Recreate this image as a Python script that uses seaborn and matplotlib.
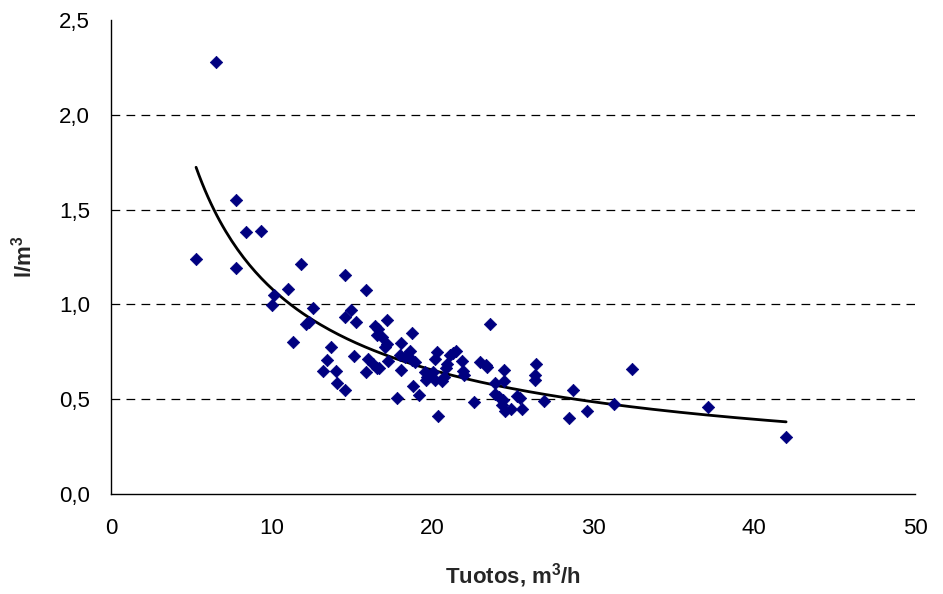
import numpy as np
import pandas as pd
import matplotlib
matplotlib.use("Agg")
import matplotlib.pyplot as plt
from matplotlib.ticker import FuncFormatter
import seaborn as sns

# Measured flow (m3/h) and specific consumption (l/m3)
tuotos = [
    5.29, 6.51, 7.75, 7.75, 8.40, 9.33, 9.99, 10.16, 11.03, 11.80, 11.34,
    12.13, 12.30, 12.54, 14.55, 15.86, 14.93, 14.55, 15.22, 17.18, 16.42,
    16.63, 16.52, 16.83, 18.70, 17.14, 17.04, 18.03, 13.68, 13.41, 15.10,
    15.96, 13.20, 14.00, 15.86, 16.31, 16.52, 16.68, 17.25, 17.97, 18.28,
    18.60, 18.70, 18.90, 18.03, 14.07, 14.55, 18.80, 19.17, 17.77, 19.53,
    19.62, 19.57, 20.04, 20.25, 20.15, 20.15, 20.60, 20.70, 20.88, 20.85,
    20.36, 21.08, 21.25, 21.46, 21.83, 21.90, 21.95, 22.95, 23.30, 23.40,
    22.60, 23.57, 24.45, 24.44, 23.90, 23.88, 24.15, 24.35, 24.30, 24.50,
    24.86, 25.23, 25.44, 25.54, 26.45, 26.37, 26.37, 26.93, 28.71, 28.50,
    29.58, 31.28, 32.38, 37.15, 41.98,
]
kulutus = [
    1.237, 2.277, 1.548, 1.194, 1.381, 1.388, 0.995, 1.048, 1.083, 1.212, 0.803,
    0.895, 0.909, 0.980, 1.157, 1.076, 0.970, 0.932, 0.909, 0.916, 0.884,
    0.868, 0.837, 0.829, 0.851, 0.793, 0.775, 0.796, 0.777, 0.706, 0.730,
    0.714, 0.650, 0.650, 0.643, 0.687, 0.666, 0.663, 0.701, 0.731, 0.722,
    0.752, 0.705, 0.696, 0.652, 0.585, 0.546, 0.570, 0.522, 0.505, 0.643,
    0.617, 0.600, 0.643, 0.749, 0.714, 0.599, 0.598, 0.615, 0.685, 0.662,
    0.411, 0.731, 0.742, 0.756, 0.700, 0.648, 0.628, 0.694, 0.682, 0.672,
    0.483, 0.899, 0.652, 0.594, 0.584, 0.525, 0.511, 0.497, 0.467, 0.440,
    0.446, 0.518, 0.505, 0.450, 0.684, 0.628, 0.599, 0.490, 0.550, 0.402,
    0.436, 0.476, 0.657, 0.458, 0.298,
]

x_ticks = [0, 10, 20, 30, 40, 50]
y_ticks = [0.0, 0.5, 1.0, 1.5, 2.0, 2.5]

df = pd.DataFrame({"tuotos": tuotos, "kulutus": kulutus})

# Power-law trendline y = a * x^b, least squares in log-log space
b, log_a = np.polyfit(np.log(df["tuotos"]), np.log(df["kulutus"]), 1)
x_fit = np.linspace(df["tuotos"].min(), df["tuotos"].max(), 200)
trend = pd.DataFrame({"tuotos": x_fit, "kulutus": np.exp(log_a) * x_fit ** b})

sns.set_theme(style="white")
plt.rcParams["font.family"] = ["Liberation Sans", "DejaVu Sans"]
plt.rcParams["mathtext.fontset"] = "custom"
plt.rcParams["mathtext.rm"] = "Liberation Sans"
plt.rcParams["mathtext.bf"] = "Liberation Sans:bold"

fig = plt.figure(figsize=(9.43, 5.94), dpi=100)
ax = fig.add_axes([0.1177, 0.1684, 0.8527, 0.7979])

# dashed horizontal gridlines
for yv in y_ticks[1:-1]:
    ax.axhline(yv, color="black", lw=0.9, ls=(0, (7, 5)), zorder=0)

sns.lineplot(data=trend, x="tuotos", y="kulutus", ax=ax, color="black",
             lw=2.0, zorder=2)
sns.scatterplot(data=df, x="tuotos", y="kulutus", ax=ax, marker="D",
                color="#000080", edgecolor="#000080", s=40, linewidth=0.5,
                zorder=3)

ax.set_xlim(x_ticks[0], x_ticks[-1])
ax.set_ylim(y_ticks[0], y_ticks[-1])
ax.set_xticks(x_ticks)
ax.set_yticks(y_ticks)
ax.yaxis.set_major_formatter(FuncFormatter(lambda v, p: f"{v:.1f}".replace(".", ",")))
ax.xaxis.set_major_formatter(FuncFormatter(lambda v, p: f"{v:.0f}"))

for side in ("top", "right"):
    ax.spines[side].set_visible(False)
for side in ("left", "bottom"):
    ax.spines[side].set_color("black")
    ax.spines[side].set_linewidth(1.0)

ax.tick_params(axis="both", direction="out", length=7, width=1.0,
               color="black", labelsize=16, labelcolor="black")
ax.tick_params(axis="x", pad=10)
ax.tick_params(axis="y", pad=8)

ax.set_xlabel(r"Tuotos, m$^\mathbf{3}$/h", fontsize=16, fontweight="bold",
              labelpad=16)
ax.set_ylabel(r"l/m$^\mathbf{3}$", fontsize=16, fontweight="bold",
              labelpad=16)

fig.savefig("out.png", dpi=100)
